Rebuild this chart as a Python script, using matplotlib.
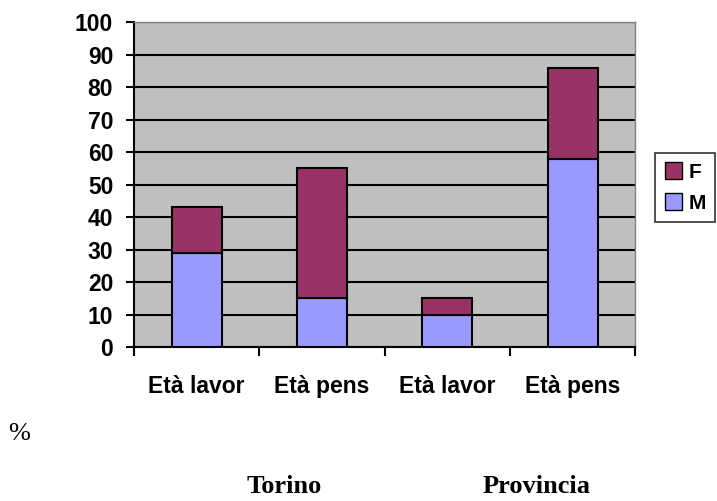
import numpy as np
import matplotlib.pyplot as plt
from matplotlib.patches import Patch

categories = ["Età lavor", "Età pens", "Età lavor", "Età pens"]
groups = ["Torino", "Provincia"]
m_values = [29, 15, 10, 58]
f_values = [14, 40, 5, 28]

col_m = "#9999ff"
col_f = "#993366"

fig = plt.figure(figsize=(7.17, 5.01), dpi=100)
ax = fig.add_axes([0.187, 0.307, 0.699, 0.649])
ax.set_facecolor("#c0c0c0")

x = np.arange(len(categories))
ax.bar(x, m_values, width=0.4, color=col_m, edgecolor="black", linewidth=1.5, zorder=3)
ax.bar(x, f_values, width=0.4, bottom=m_values, color=col_f, edgecolor="black",
       linewidth=1.5, zorder=3)

ax.set_xlim(-0.5, len(categories) - 0.5)
ax.set_ylim(0, 100)
ax.set_yticks(np.arange(0, 101, 10))
ax.yaxis.grid(True, color="black", linewidth=1.5, zorder=1)
ax.set_axisbelow(True)

ax.set_xticks(np.arange(-0.5, len(categories), 1.0))
ax.set_xticklabels([])
ax.set_xticks(x, minor=True)
ax.set_xticklabels(categories, minor=True)
ax.tick_params(axis="x", which="major", length=6.5, width=1.5, direction="out")
ax.tick_params(axis="x", which="minor", length=0, pad=20)
ax.tick_params(axis="y", length=6, width=1.5, direction="out", pad=9)

for lab in ax.get_xticklabels(minor=True) + ax.get_yticklabels():
    lab.set_family("Liberation Sans")
    lab.set_fontweight("bold")
    lab.set_fontsize(16.5)

for s in ["left", "bottom"]:
    ax.spines[s].set_linewidth(1.5)
for s in ["top", "right"]:
    ax.spines[s].set_color("#808080")
    ax.spines[s].set_linewidth(1)

handles = [Patch(facecolor=col_f, edgecolor="black", label="F"),
           Patch(facecolor=col_m, edgecolor="black", label="M")]
leg = fig.legend(handles=handles, loc="upper left", bbox_to_anchor=(0.914, 0.695),
                 frameon=True, fancybox=False, edgecolor="black", handlelength=0.85,
                 handleheight=0.85, handletextpad=0.3, borderpad=0.45, labelspacing=0.55,
                 borderaxespad=0,
                 prop={"family": "Liberation Sans", "weight": "bold", "size": 15})
leg.get_frame().set_linewidth(1.2)

fig.text(0.011, 0.122, "%", family="Liberation Serif", fontsize=19)
fig.text(284 / 717, 0.016, groups[0], family="Liberation Serif", fontweight="bold",
         fontsize=19, ha="center")
fig.text(537 / 717, 0.016, groups[1], family="Liberation Serif", fontweight="bold",
         fontsize=19, ha="center")

fig.savefig("out.png", dpi=100)
